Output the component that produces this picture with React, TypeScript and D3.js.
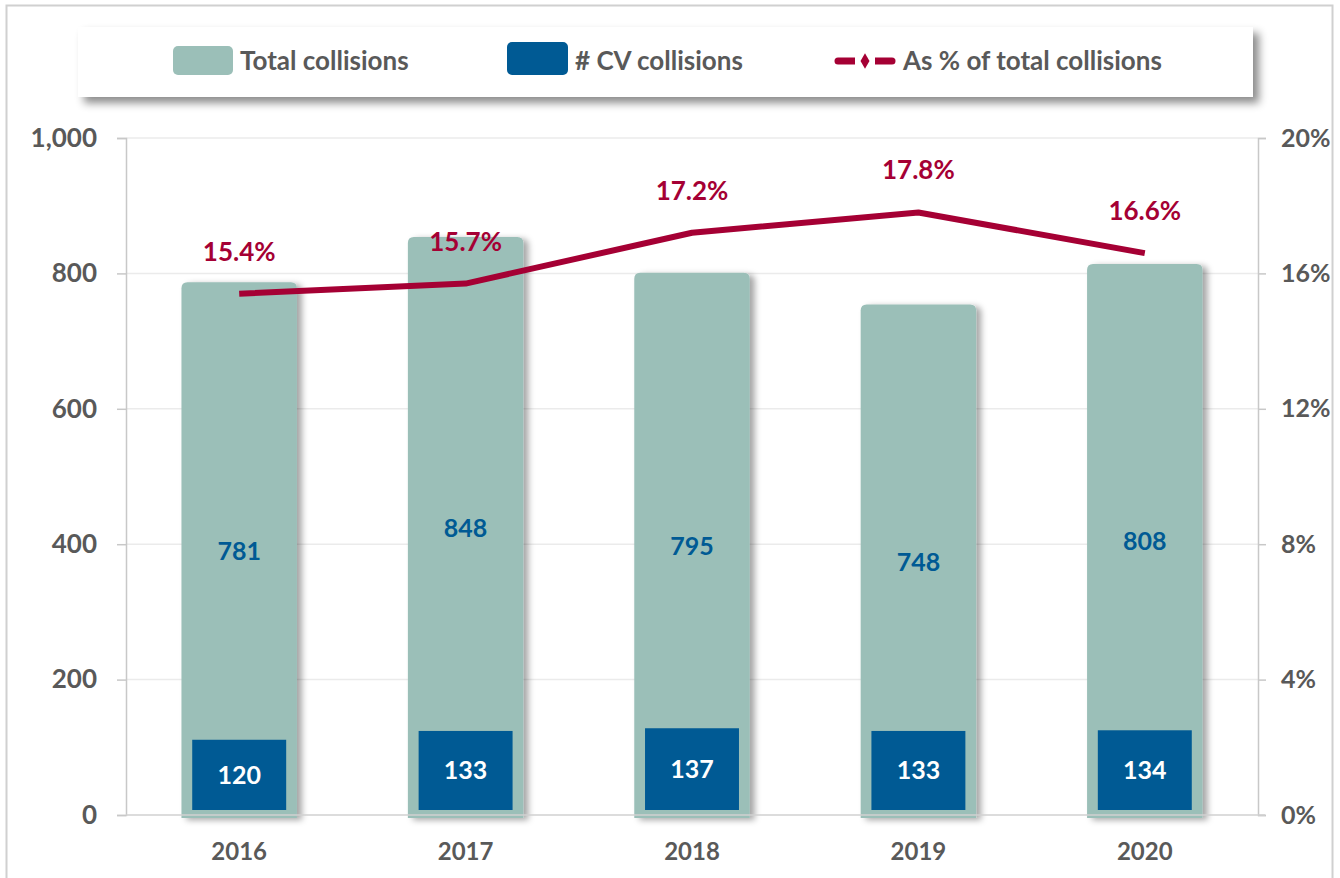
import React, { useEffect, useRef } from "react";
import * as d3 from "d3";

const years = ["2016", "2017", "2018", "2019", "2020"];
const totalCollisions = [781, 848, 795, 748, 808];
const cvCollisions = [120, 133, 137, 133, 134];
const cvShare = [15.4, 15.7, 17.2, 17.8, 16.6];
const leftTicks = [0, 200, 400, 600, 800, 1000];
const rightTicks = [0, 4, 8, 12, 16, 20];

const TEAL = "#9bbfb8";
const BLUE = "#005a94";
const RED = "#a50034";
const GREY = "#595959";
const FONT = "Lato, 'Open Sans', sans-serif";

const App = () => {
  const svgRef = useRef<SVGSVGElement | null>(null);

  useEffect(() => {
    const svg = d3.select(svgRef.current);
    svg.selectAll("*").remove();

    const left = 126;
    const right = 1258;
    const top = 138;
    const bottom = 815;

    const x = d3.scaleBand().domain(years).range([left, right]);
    const y = d3.scaleLinear().domain([0, 1000]).range([bottom, top]);
    const yPct = d3.scaleLinear().domain([0, 20]).range([bottom, top]);
    const bw = x.bandwidth();
    const cx = (d: string) => (x(d) as number) + bw / 2;

    const defs = svg.append("defs");
    const barShadow = defs
      .append("filter")
      .attr("id", "barShadow")
      .attr("x", "-20%")
      .attr("y", "-10%")
      .attr("width", "150%")
      .attr("height", "130%");
    barShadow
      .append("feDropShadow")
      .attr("dx", 5)
      .attr("dy", 2)
      .attr("stdDeviation", 3)
      .attr("flood-color", "#000")
      .attr("flood-opacity", 0.35);

    const boxShadow = defs
      .append("filter")
      .attr("id", "boxShadow")
      .attr("x", "-5%")
      .attr("y", "-20%")
      .attr("width", "115%")
      .attr("height", "160%");
    boxShadow
      .append("feDropShadow")
      .attr("dx", 6)
      .attr("dy", 6)
      .attr("stdDeviation", 4)
      .attr("flood-color", "#000")
      .attr("flood-opacity", 0.45);

    // outer frame
    svg
      .append("rect")
      .attr("x", 6.5)
      .attr("y", 5.5)
      .attr("width", 1326)
      .attr("height", 900)
      .attr("fill", "#fff")
      .attr("stroke", "#d0d0d0")
      .attr("stroke-width", 2);

    // gridlines
    svg
      .append("g")
      .selectAll("line")
      .data(leftTicks.filter((t) => t > 0))
      .join("line")
      .attr("x1", left)
      .attr("x2", right)
      .attr("y1", (d) => y(d))
      .attr("y2", (d) => y(d))
      .attr("stroke", "#ebebeb")
      .attr("stroke-width", 1.5);

    // left axis
    const leftAxis = svg
      .append("g")
      .attr("transform", `translate(${left},0)`)
      .call(
        d3
          .axisLeft(y)
          .tickValues(leftTicks)
          .tickSize(9)
          .tickPadding(20)
          .tickFormat((d) => d3.format(",")(d as number))
      );
    // right axis
    const rightAxis = svg
      .append("g")
      .attr("transform", `translate(${right},0)`)
      .call(
        d3
          .axisRight(yPct)
          .tickValues(rightTicks)
          .tickSize(8)
          .tickPadding(15)
          .tickFormat((d) => `${d}%`)
      );
    [leftAxis, rightAxis].forEach((g, k) => {
      g.select(".domain").attr("stroke", "#c8c8c8").attr("stroke-width", 1.5);
      g.selectAll(".tick line").attr("stroke", "#c8c8c8").attr("stroke-width", 1.5);
      g.selectAll(".tick text")
        .attr("fill", GREY)
        .attr("font-family", FONT)
        .attr("font-weight", 700)
        .attr("font-size", k === 0 ? 26 : 25);
    });

    // total bars
    const barW = bw * 0.51;
    const r = 6;
    svg
      .append("g")
      .selectAll("path")
      .data(years)
      .join("path")
      .attr("filter", "url(#barShadow)")
      .attr("fill", TEAL)
      .attr("d", (d, i) => {
        const x0 = cx(d) - barW / 2;
        const x1 = cx(d) + barW / 2;
        const y0 = y(totalCollisions[i]) - 4;
        const y1 = bottom + 3;
        return `M${x0},${y1} L${x0},${y0 + r} Q${x0},${y0} ${x0 + r},${y0} L${x1 - r},${y0} Q${x1},${y0} ${x1},${y0 + r} L${x1},${y1} Z`;
      });

    // baseline
    svg
      .append("line")
      .attr("x1", left)
      .attr("x2", right + 7)
      .attr("y1", bottom)
      .attr("y2", bottom)
      .attr("stroke", "#d0d0d0")
      .attr("stroke-width", 1.5);

    // CV bars
    const cvW = bw * 0.415;
    svg
      .append("g")
      .selectAll("rect")
      .data(years)
      .join("rect")
      .attr("x", (d) => cx(d) - cvW / 2)
      .attr("y", (d, i) => y(cvCollisions[i]) + 6)
      .attr("width", cvW)
      .attr("height", (d, i) => y(0) - 5 - (y(cvCollisions[i]) + 6))
      .attr("fill", BLUE);

    // total labels
    svg
      .append("g")
      .selectAll("text")
      .data(years)
      .join("text")
      .attr("x", (d) => cx(d))
      .attr("y", (d, i) => (y(totalCollisions[i]) + y(0)) / 2 + 9)
      .attr("text-anchor", "middle")
      .attr("fill", BLUE)
      .attr("font-family", FONT)
      .attr("font-weight", 700)
      .attr("font-size", 25)
      .text((d, i) => totalCollisions[i]);

    // CV labels
    svg
      .append("g")
      .selectAll("text")
      .data(years)
      .join("text")
      .attr("x", (d) => cx(d))
      .attr("y", (d, i) => (y(cvCollisions[i]) + 6 + y(0) - 5) / 2 + 9)
      .attr("text-anchor", "middle")
      .attr("fill", "#fff")
      .attr("font-family", FONT)
      .attr("font-weight", 700)
      .attr("font-size", 25)
      .text((d, i) => cvCollisions[i]);

    // share line
    const line = d3
      .line<number>()
      .x((d, i) => cx(years[i]))
      .y((d) => yPct(d));
    svg
      .append("path")
      .attr("d", line(cvShare))
      .attr("fill", "none")
      .attr("stroke", RED)
      .attr("stroke-width", 6)
      .attr("stroke-linejoin", "round");

    svg
      .append("g")
      .selectAll("text")
      .data(years)
      .join("text")
      .attr("x", (d) => cx(d))
      .attr("y", (d, i) => yPct(cvShare[i]) - 33)
      .attr("text-anchor", "middle")
      .attr("fill", RED)
      .attr("font-family", FONT)
      .attr("font-weight", 700)
      .attr("font-size", 26)
      .text((d, i) => `${cvShare[i].toFixed(1)}%`);

    // x labels
    svg
      .append("g")
      .selectAll("text")
      .data(years)
      .join("text")
      .attr("x", (d) => cx(d))
      .attr("y", 860)
      .attr("text-anchor", "middle")
      .attr("fill", GREY)
      .attr("font-family", FONT)
      .attr("font-weight", 700)
      .attr("font-size", 24)
      .text((d) => d);

    // legend
    const legend = svg.append("g");
    legend
      .append("rect")
      .attr("x", 78)
      .attr("y", 27)
      .attr("width", 1175)
      .attr("height", 70)
      .attr("fill", "#fff")
      .attr("filter", "url(#boxShadow)");

    const legendText = (lx: number, label: string) =>
      legend
        .append("text")
        .attr("x", lx)
        .attr("y", 70)
        .attr("fill", GREY)
        .attr("font-family", FONT)
        .attr("font-weight", 700)
        .attr("font-size", 26)
        .text(label);

    legend
      .append("rect")
      .attr("x", 173)
      .attr("y", 46)
      .attr("width", 60)
      .attr("height", 29)
      .attr("rx", 5)
      .attr("fill", TEAL);
    legendText(240, "Total collisions");

    legend
      .append("rect")
      .attr("x", 507)
      .attr("y", 42)
      .attr("width", 61)
      .attr("height", 33)
      .attr("rx", 5)
      .attr("fill", BLUE);
    legendText(575, "# CV collisions");

    legend
      .append("line")
      .attr("x1", 838)
      .attr("x2", 892)
      .attr("y1", 61)
      .attr("y2", 61)
      .attr("stroke", RED)
      .attr("stroke-width", 7)
      .attr("stroke-linecap", "round");
    legend
      .append("rect")
      .attr("x", 855)
      .attr("y", 56)
      .attr("width", 20)
      .attr("height", 10)
      .attr("fill", "#fff");
    legend
      .append("path")
      .attr("d", d3.symbol().type(d3.symbolDiamond).size(70)())
      .attr("transform", "translate(865,61)")
      .attr("fill", RED);
    legendText(903, "As % of total collisions");
  }, []);

  return (
    <svg
      ref={svgRef}
      width={1340}
      height={878}
      style={{ position: "absolute", left: 0, top: 0, background: "#fff" }}
    ></svg>
  );
};

export default App;
